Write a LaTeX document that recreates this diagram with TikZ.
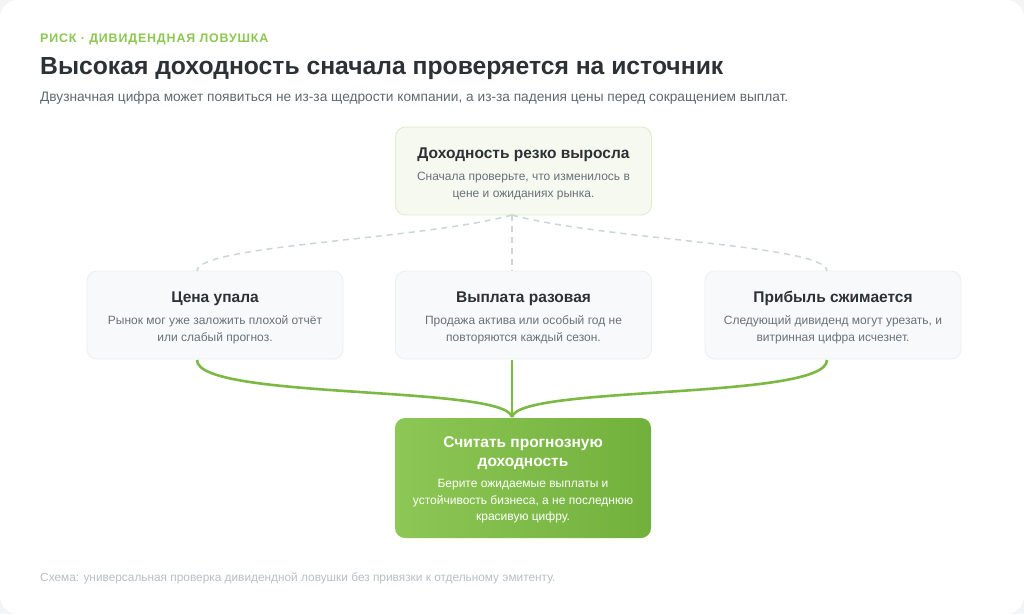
\documentclass[tikz,border=0pt]{standalone}
\usepackage{fontspec}
\setmainfont{Liberation Sans}
\newfontfamily\kickerfont[LetterSpace=7]{Liberation Sans}
\usetikzlibrary{positioning}
\definecolor{bgout}{HTML}{F3F4F5}
\definecolor{kick}{HTML}{8CC751}
\definecolor{ink}{HTML}{2B3134}
\definecolor{sub}{HTML}{5E6A6E}
\definecolor{desc}{HTML}{66727A}
\definecolor{foot}{HTML}{B5C0C5}
\definecolor{topfill}{HTML}{F6F9F0}
\definecolor{topdraw}{HTML}{DCEDC8}
\definecolor{midfill}{HTML}{F8F9FA}
\definecolor{middraw}{HTML}{ECEFF0}
\definecolor{dash}{HTML}{CDD5D9}
\definecolor{gline}{HTML}{7CB844}
\definecolor{gA}{HTML}{8DC755}
\definecolor{gB}{HTML}{72B03C}
\tikzset{
  card/.style={rounded corners=10pt, minimum width=256pt, minimum height=88pt, line width=0.8pt, inner sep=0pt},
  topcard/.style={card, fill=topfill, draw=topdraw},
  midcard/.style={card, fill=midfill, draw=middraw},
  greencard/.style={rounded corners=10pt, minimum width=256pt, minimum height=120pt, left color=gA, right color=gB, draw=none},
  btitle/.style={font=\bfseries\fontsize{15.5}{18}\selectfont, text=ink, anchor=base, inner sep=0pt},
  bdesc/.style={font=\fontsize{12}{16.5}\selectfont, text=desc, align=center, anchor=center},
  dashline/.style={draw=dash, line width=1.5pt, dash pattern=on 6pt off 5pt},
  gflow/.style={draw=gline, line width=2.6pt}
}
\begin{document}
\begin{tikzpicture}[x=1pt,y=-1pt]
\useasboundingbox (0,0) rectangle (1024,614);
\fill[bgout] (0,0) rectangle (1024,614);
\fill[white, rounded corners=18pt] (0,0) rectangle (1024,614);

\node[anchor=base west, inner sep=0pt, text=kick, font=\kickerfont\bfseries\fontsize{12.4}{14}\selectfont] (kicker) at (40,42) {РИСК · ДИВИДЕНДНАЯ ЛОВУШКА};
\node[anchor=base west, inner sep=0pt, text=ink, font=\bfseries\fontsize{24.7}{28}\selectfont] (title) at (40,74) {Высокая доходность сначала проверяется на источник};
\node[anchor=base west, inner sep=0pt, text=sub, font=\fontsize{13.7}{16}\selectfont] (subtitle) at (40,101) {Двузначная цифра может появиться не из-за щедрости компании, а из-за падения цены перед сокращением выплат.};

% boxes
\node[topcard] (top) at (523.5,171) {};
\node[midcard] (b1) at (215,315) {};
\node[midcard] (b2) at (523.5,315) {};
\node[midcard] (b3) at (833,315) {};
\node[greencard] (g) at (523,478) {};

% connectors
\coordinate (tb) at (512,215);
\coordinate (b1t) at (197,271);
\coordinate (b2t) at (512,271);
\coordinate (b3t) at (827,271);
\draw[dashline] (tb) .. controls (420,240) and (197,245) .. (b1t);
\draw[dashline] (tb) -- (b2t);
\draw[dashline] (tb) .. controls (604,240) and (827,245) .. (b3t);

\coordinate (b1b) at (197,360);
\coordinate (b2b) at (512,360);
\coordinate (b3b) at (827,360);
\coordinate (gt) at (512,417);
\draw[gflow] (b1b) .. controls (197,400) and (505,385) .. (gt);
\draw[gflow] (b2b) -- (gt);
\draw[gflow] (b3b) .. controls (827,400) and (519,385) .. (gt);

% texts
\node[btitle] (topT) at (523.5,158.8) {Доходность резко выросла};
\node[bdesc] (topD) at (523.5,186) {Сначала проверьте, что изменилось в\\цене и ожиданиях рынка.};

\node[btitle] (b1T) at (215,302.8) {Цена упала};
\node[bdesc] (b1D) at (215,330) {Рынок мог уже заложить плохой отчёт\\или слабый прогноз.};
\node[btitle] (b2T) at (523.5,302.8) {Выплата разовая};
\node[bdesc] (b2D) at (523.5,330) {Продажа актива или особый год не\\повторяются каждый сезон.};
\node[btitle] (b3T) at (833,302.8) {Прибыль сжимается};
\node[bdesc] (b3D) at (833,330) {Следующий дивиденд могут урезать, и\\витринная цифра исчезнет.};

\node[font=\bfseries\fontsize{15.5}{19}\selectfont, text=white, align=center] (gT) at (523,453.5) {Считать прогнозную\\доходность};
\node[font=\fontsize{12}{16.5}\selectfont, text=white, align=center] (gD) at (523,501.5) {Берите ожидаемые выплаты и\\устойчивость бизнеса, а не последнюю\\красивую цифру.};

\node[anchor=base west, inner sep=0pt, text=foot, font=\fontsize{11.85}{14}\selectfont] (footer) at (40,581) {Схема: универсальная проверка дивидендной ловушки без привязки к отдельному эмитенту.};
\end{tikzpicture}
\end{document}
